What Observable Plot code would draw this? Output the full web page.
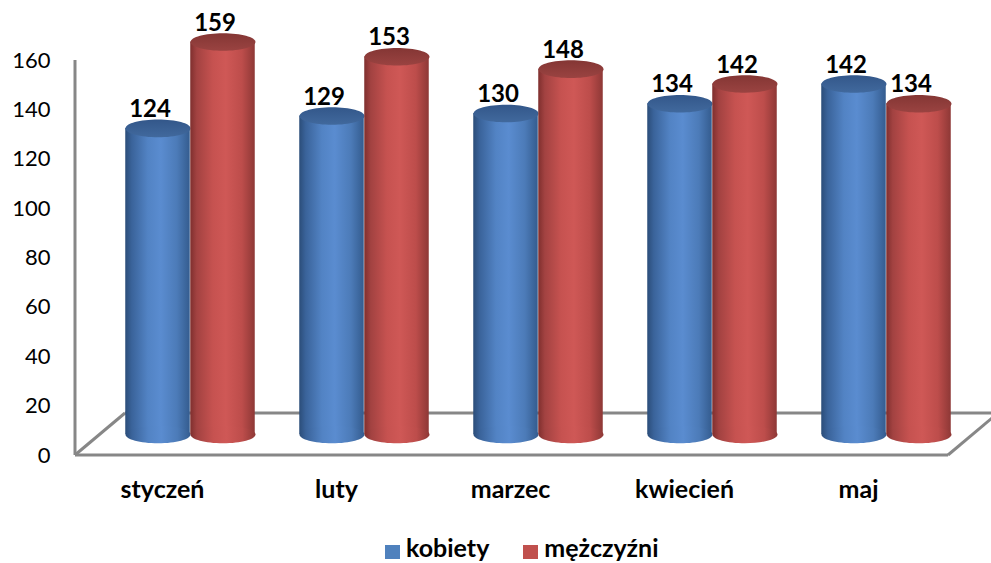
<!DOCTYPE html>
<html>
<head>
<meta charset="utf-8">
<script src="https://cdn.jsdelivr.net/npm/d3@7"></script>
<script src="https://cdn.jsdelivr.net/npm/@observablehq/plot@0.6"></script>
<style>
  html, body { margin: 0; padding: 0; background: #fff; }
  body { width: 991px; height: 563px; overflow: hidden; font-family: Lato, "Open Sans", sans-serif; }
  #legend { height: 33px; display: flex; justify-content: flex-start; align-items: flex-start; padding-top: 5px; padding-left: 385px; box-sizing: border-box;
            font-family: Lato, sans-serif; font-weight: bold; font-size: 25px; line-height: 25px; color: #000; }
  .item { display: flex; align-items: flex-start; margin-right: 34px; }
  .sw { width: 15px; height: 14px; margin-right: 6px; margin-top: 10px; }
</style>
</head>
<body>
<div id="chart"></div>
<div id="legend"></div>
<script>
// ---- data ----
const months = ["styczeń", "luty", "marzec", "kwiecień", "maj"];
const kobiety = [124, 129, 130, 134, 142];
const mezczyzni = [159, 153, 148, 142, 134];
const seriesNames = ["kobiety", "mężczyźni"];
const seriesColors = ["#4F81BD", "#C0504D"];
const yTicks = [0, 20, 40, 60, 80, 100, 120, 140, 160];

const kData = months.map((m, i) => ({month: m, value: kobiety[i]}));
const mData = months.map((m, i) => ({month: m, value: mezczyzni[i]}));

// ---- geometry / style ----
const W = 991, H = 530;
const depthDy = -21;         // bars sit halfway into the 3D floor
const half = 32.5;           // half of a cylinder width
const step = 174.5;          // category step
const firstCenter = 189;     // centre of first category group (bars)

// ellipse symbol for cylinder caps
const ellipse = (k) => ({
  draw(ctx, size) {
    const rx = Math.sqrt(size / Math.PI), ry = rx * k, c = 0.5523;
    ctx.moveTo(rx, 0);
    ctx.bezierCurveTo(rx, ry * c, rx * c, ry, 0, ry);
    ctx.bezierCurveTo(-rx * c, ry, -rx, ry * c, -rx, 0);
    ctx.bezierCurveTo(-rx, -ry * c, -rx * c, -ry, 0, -ry);
    ctx.bezierCurveTo(rx * c, -ry, rx, -ry * c, rx, 0);
    ctx.closePath();
  }
});
const cap = ellipse(0.27);

function frame3d(index, scales, values, dims) {
  const y = scales.y;
  const x0 = dims.marginLeft, x1 = dims.width - dims.marginRight;
  const y0 = y(0), yTop = y(yTicks[yTicks.length - 1]);
  const ddx = 50, ddy = 42;
  const g = d3.create("svg:g").attr("fill", "none").attr("stroke", "#878787").attr("stroke-width", 3);
  g.append("path").attr("d", `M${x0},${yTop}L${x0},${y0}`);
  g.append("path").attr("d", `M${x0},${y0}L${x1},${y0}`);
  g.append("path").attr("d", `M${x0},${y0}L${x0 + ddx},${y0 - ddy}`);
  g.append("path").attr("d", `M${x0 + ddx},${y0 - ddy}L${dims.width + 5},${y0 - ddy}`);
  g.append("path").attr("d", `M${x1},${y0}L${x1 + ddx},${y0 - ddy}`);
  return g.node();
}

function cylinder(data, key, off) {
  const inL = off < 0 ? step / 2 - 2 * half : step / 2;
  const inR = off < 0 ? step / 2 : step / 2 - 2 * half;
  return [
    Plot.barY(data, {x: "month", y: "value", fill: `url(#body${key})`, insetLeft: inL, insetRight: inR, dy: depthDy}),
    Plot.dot(data, {x: "month", y: () => 0, r: half, symbol: cap, fill: `url(#body${key})`, dx: off, dy: depthDy}),
    Plot.dot(data, {x: "month", y: "value", r: half, symbol: cap, fill: `url(#top${key})`, dx: off, dy: depthDy}),
    Plot.text(data, {x: "month", y: "value", text: d => String(d.value), dx: off - 8, dy: depthDy - 19,
                     fontSize: 24, fontWeight: "bold", fill: "#000"})
  ];
}

const r0 = firstCenter - step / 2;
const chart = Plot.plot({
  width: W,
  height: H,
  marginLeft: 75,
  marginRight: 43,
  marginTop: 60,
  marginBottom: 75,
  style: {fontFamily: "Lato, sans-serif", fontSize: "22px", color: "#000", background: "#fff"},
  x: {type: "band", domain: months, range: [r0, r0 + step * months.length], padding: 0, label: null},
  y: {domain: [0, 160], label: null},
  marks: [
    frame3d,
    Plot.axisY({ticks: yTicks, tickSize: 0, tickPadding: 25, fontSize: 22, tickFormat: d => String(d), fill: "#000"}),
    Plot.axisX({tickSize: 0, tickPadding: 25, dx: -28, fontSize: 25, fontWeight: "bold", fill: "#000"}),
    ...cylinder(kData, "Blue", -half),
    ...cylinder(mData, "Red", half)
  ]
});

chart.insertAdjacentHTML("afterbegin", `
<defs>
  <linearGradient id="bodyBlue" x1="0" x2="1" y1="0" y2="0">
    <stop offset="0" stop-color="#2b4d79"/>
    <stop offset="0.1" stop-color="#3a639a"/>
    <stop offset="0.35" stop-color="#5283c4"/>
    <stop offset="0.55" stop-color="#5a8cd0"/>
    <stop offset="0.8" stop-color="#4c7bb8"/>
    <stop offset="1" stop-color="#345c8f"/>
  </linearGradient>
  <linearGradient id="topBlue" x1="0" x2="0" y1="0" y2="1">
    <stop offset="0" stop-color="#33578a"/>
    <stop offset="1" stop-color="#41699d"/>
  </linearGradient>
  <linearGradient id="bodyRed" x1="0" x2="1" y1="0" y2="0">
    <stop offset="0" stop-color="#7f2f2e"/>
    <stop offset="0.1" stop-color="#a24241"/>
    <stop offset="0.35" stop-color="#c65250"/>
    <stop offset="0.55" stop-color="#cf5856"/>
    <stop offset="0.8" stop-color="#bd4d4b"/>
    <stop offset="1" stop-color="#8e3836"/>
  </linearGradient>
  <linearGradient id="topRed" x1="0" x2="0" y1="0" y2="1">
    <stop offset="0" stop-color="#843634"/>
    <stop offset="1" stop-color="#9a4341"/>
  </linearGradient>
</defs>`);

document.getElementById("chart").appendChild(chart);

const legend = document.getElementById("legend");
seriesNames.forEach((name, i) => {
  const it = document.createElement("div");
  it.className = "item";
  const sw = document.createElement("div");
  sw.className = "sw";
  sw.style.background = seriesColors[i];
  const tx = document.createElement("span");
  tx.textContent = name;
  it.appendChild(sw);
  it.appendChild(tx);
  legend.appendChild(it);
});
</script>
</body>
</html>
